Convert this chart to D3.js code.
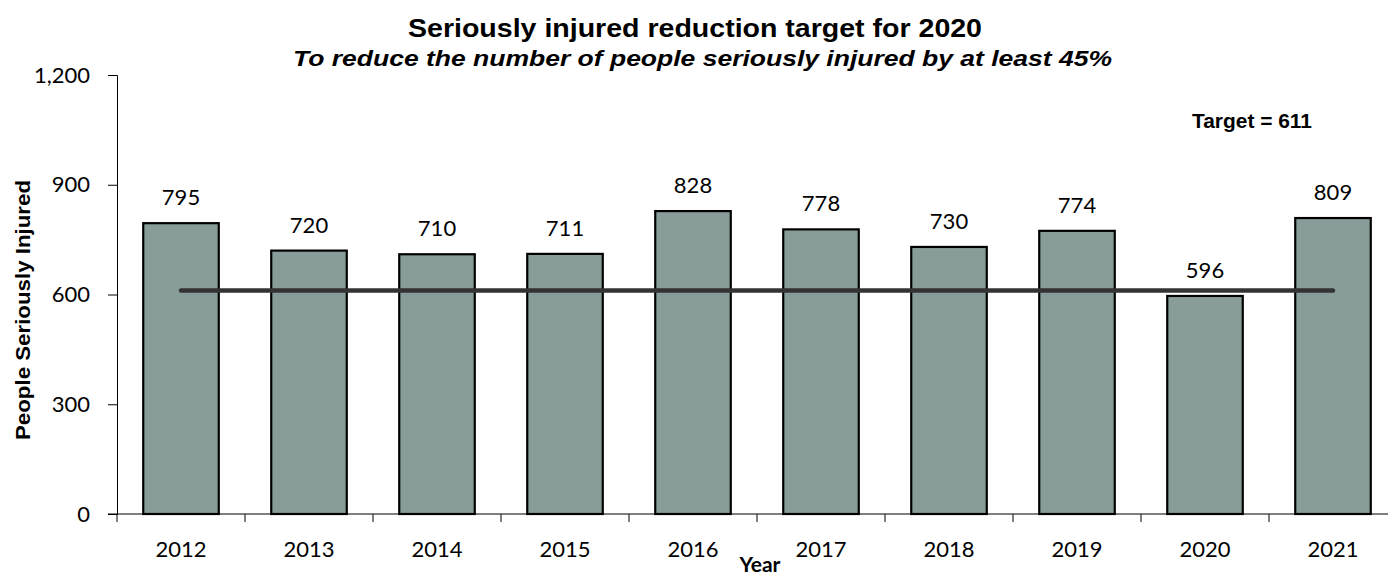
<!DOCTYPE html>
<html><head><meta charset="utf-8">
<script src="https://cdn.jsdelivr.net/npm/d3@7"></script>
<style>body{margin:0;background:#fff}svg{display:block}</style>
</head><body><svg id="c" width="1388" height="575"></svg>
<script>
const years = ["2012","2013","2014","2015","2016","2017","2018","2019","2020","2021"];
const injured = [795,720,710,711,828,778,730,774,596,809];
const targetValue = 611;
const yTicks = [0,300,600,900,1200];

const svg = d3.select("#c");
const L = 117, R = 1397, T = 75, B = 514;
const x = d3.scaleBand().domain(years).range([L,R]).paddingInner(0.41).paddingOuter(0.205);
const y = d3.scaleLinear().domain([0,1200]).range([B,T]);
const numFont = "Lato, 'Open Sans', sans-serif";
const arial = "'Liberation Sans', Arial, sans-serif";

// axes
const ya = svg.append("g").attr("transform",`translate(${L},0)`)
  .call(d3.axisLeft(y).tickValues(yTicks).tickSize(9).tickPadding(18).tickFormat(d3.format(",")));
ya.select(".domain").attr("stroke","#000").attr("stroke-width",1);
ya.selectAll(".tick line").attr("stroke","#000");
ya.selectAll("text").attr("font-family",numFont).attr("font-size",22).attr("fill","#000");

const band = x.step();
const boundaries = d3.range(years.length+1).map(i => L + i*band);
svg.append("line").attr("x1",L-9).attr("x2",1388).attr("y1",B).attr("y2",B).attr("stroke","#000").attr("stroke-width",1);
svg.selectAll(".xt").data(boundaries).enter().append("line")
  .attr("x1",d=>d).attr("x2",d=>d).attr("y1",B).attr("y2",B+8).attr("stroke","#000");
svg.selectAll(".xl").data(years).enter().append("text")
  .attr("x",d=>x(d)+x.bandwidth()/2).attr("y",557).attr("text-anchor","middle")
  .attr("font-family",numFont).attr("font-size",22).text(d=>d);

// bars
svg.selectAll(".bar").data(years).enter().append("rect")
  .attr("x",d=>x(d)).attr("width",x.bandwidth())
  .attr("y",(d,i)=>y(injured[i])).attr("height",(d,i)=>B-y(injured[i]))
  .attr("fill","#889d99").attr("stroke","#000").attr("stroke-width",2.2);

// value labels
svg.selectAll(".vl").data(years).enter().append("text")
  .attr("x",d=>x(d)+x.bandwidth()/2).attr("y",(d,i)=>y(injured[i])-18).attr("text-anchor","middle")
  .attr("font-family",numFont).attr("font-size",22).text((d,i)=>injured[i]);

// target line
svg.append("line")
  .attr("x1",x(years[0])+x.bandwidth()/2).attr("x2",x(years[years.length-1])+x.bandwidth()/2)
  .attr("y1",y(targetValue)).attr("y2",y(targetValue))
  .attr("stroke","#333").attr("stroke-width",4.5).attr("stroke-linecap","round");

svg.append("text").attr("x",1252).attr("y",128).attr("text-anchor","middle")
  .attr("font-family",arial).attr("font-weight","bold").attr("font-size",20)
  .attr("textLength",120).attr("lengthAdjust","spacingAndGlyphs")
  .text("Target = " + targetValue);

// titles
svg.append("text").attr("x",695).attr("y",37).attr("text-anchor","middle")
  .attr("font-family",arial).attr("font-weight","bold").attr("font-size",26.5)
  .attr("textLength",574).attr("lengthAdjust","spacingAndGlyphs")
  .text("Seriously injured reduction target for 2020");
svg.append("text").attr("x",702.5).attr("y",66).attr("text-anchor","middle")
  .attr("font-family",arial).attr("font-weight","bold").attr("font-style","italic").attr("font-size",22.5)
  .attr("textLength",819).attr("lengthAdjust","spacingAndGlyphs")
  .text("To reduce the number of people seriously injured by at least 45%");

svg.append("text").attr("transform","translate(30,310) rotate(-90)").attr("text-anchor","middle")
  .attr("font-family",arial).attr("font-weight","bold").attr("font-size",21)
  .attr("textLength",260).attr("lengthAdjust","spacingAndGlyphs")
  .text("People Seriously Injured");
svg.append("text").attr("x",760).attr("y",572).attr("text-anchor","middle")
  .attr("font-family",numFont).attr("font-weight","bold").attr("font-size",21)
  .text("Year");
</script></body></html>
